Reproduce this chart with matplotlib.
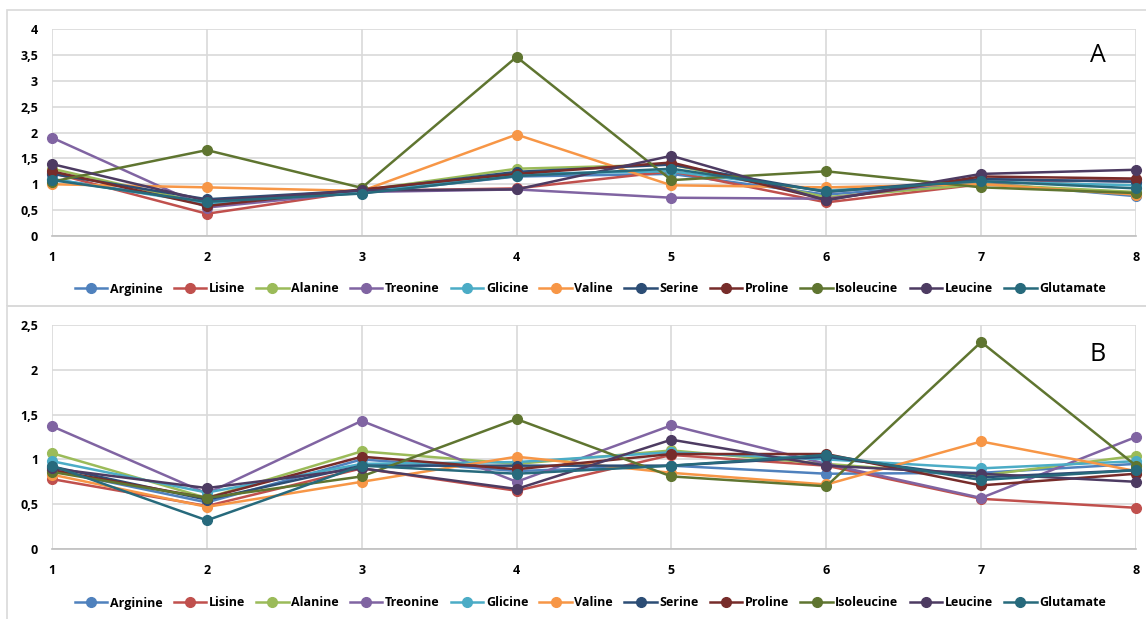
import matplotlib
matplotlib.use('Agg')
from matplotlib import pyplot as plt
from matplotlib.ticker import FuncFormatter, MultipleLocator
from matplotlib.patches import Rectangle

plt.rcParams['font.family'] = ['Open Sans', 'DejaVu Sans']

days = [1, 2, 3, 4, 5, 6, 7, 8]
names = ['Arginine', 'Lisine', 'Alanine', 'Treonine', 'Glicine', 'Valine',
         'Serine', 'Proline', 'Isoleucine', 'Leucine', 'Glutamate']
colors = ['#4F81BD', '#C0504D', '#9BBB59', '#8064A2', '#4BACC6', '#F79646',
          '#2C4D75', '#772C2A', '#5F7530', '#4D3B62', '#276A7C']

# panel A
arginine_a = [1.10, 0.65, 0.83, 1.15, 1.20, 0.80, 1.03, 0.77]
lisine_a = [1.22, 0.43, 0.87, 0.92, 1.25, 0.65, 1.00, 1.10]
alanine_a = [1.30, 0.62, 0.88, 1.30, 1.38, 0.75, 1.00, 0.85]
treonine_a = [1.90, 0.55, 0.85, 0.90, 0.74, 0.72, 1.10, 1.05]
glicine_a = [1.10, 0.63, 0.85, 1.20, 1.25, 0.88, 1.05, 0.98]
valine_a = [1.00, 0.94, 0.87, 1.96, 0.98, 0.94, 1.00, 0.80]
serine_a = [1.20, 0.71, 0.88, 1.24, 1.38, 0.85, 1.10, 1.05]
proline_a = [1.25, 0.58, 0.90, 1.20, 1.42, 0.70, 1.15, 1.11]
isoleucine_a = [1.05, 1.66, 0.93, 3.46, 1.08, 1.25, 0.94, 0.83]
leucine_a = [1.39, 0.68, 0.88, 0.90, 1.55, 0.69, 1.20, 1.28]
glutamate_a = [1.08, 0.66, 0.82, 1.16, 1.30, 0.86, 1.06, 0.92]

# panel B
arginine_b = [0.88, 0.52, 1.00, 0.87, 0.93, 0.84, 0.85, 0.95]
lisine_b = [0.78, 0.48, 0.90, 0.65, 1.05, 0.93, 0.56, 0.46]
alanine_b = [1.07, 0.57, 1.09, 0.95, 1.10, 0.95, 0.82, 1.04]
treonine_b = [1.37, 0.62, 1.43, 0.75, 1.38, 0.95, 0.57, 1.25]
glicine_b = [0.98, 0.63, 0.95, 0.97, 1.08, 1.00, 0.90, 0.98]
valine_b = [0.83, 0.47, 0.75, 1.03, 0.85, 0.72, 1.20, 0.87]
serine_b = [0.92, 0.55, 0.93, 0.93, 0.93, 1.03, 0.80, 0.88]
proline_b = [0.88, 0.57, 1.03, 0.89, 1.06, 1.06, 0.71, 0.84]
isoleucine_b = [0.86, 0.57, 0.81, 1.45, 0.81, 0.70, 2.31, 0.93]
leucine_b = [0.90, 0.68, 0.90, 0.67, 1.22, 0.93, 0.84, 0.75]
glutamate_b = [0.93, 0.32, 0.93, 0.84, 0.93, 1.05, 0.77, 0.88]

series_a = [arginine_a, lisine_a, alanine_a, treonine_a, glicine_a, valine_a,
            serine_a, proline_a, isoleucine_a, leucine_a, glutamate_a]
series_b = [arginine_b, lisine_b, alanine_b, treonine_b, glicine_b, valine_b,
            serine_b, proline_b, isoleucine_b, leucine_b, glutamate_b]


def comma(v, pos):
    s = '{:g}'.format(v)
    return s.replace('.', ',')


def draw_panel(ax, series, ymax, letter, legend_y):
    for vals, name, c in zip(series, names, colors):
        ax.plot(days, vals, color=c, lw=1.8, marker='o', ms=7,
                label=name, clip_on=False, zorder=3)
    ax.set_xlim(1, 8)
    ax.set_ylim(0, ymax)
    ax.yaxis.set_major_locator(MultipleLocator(0.5))
    ax.yaxis.set_major_formatter(FuncFormatter(comma))
    ax.set_xticks(days)
    ax.grid(True, color='#D9D9D9', lw=1.2)
    ax.set_axisbelow(True)
    for s in ['top', 'right', 'left']:
        ax.spines[s].set_visible(False)
    ax.spines['bottom'].set_color('#BFBFBF')
    ax.spines['bottom'].set_linewidth(1.2)
    ax.tick_params(length=0, labelsize=9)
    ax.tick_params(axis='x', pad=11)
    ax.tick_params(axis='y', pad=10)
    for lab in ax.get_xticklabels() + ax.get_yticklabels():
        lab.set_fontweight('bold')
    ax.text(0.965, 0.87, letter, transform=ax.transAxes, fontsize=18,
            ha='center', va='center')
    fig.legend(handles=ax.get_lines(), loc='center',
               bbox_to_anchor=(0.515, legend_y), ncol=11, frameon=False,
               handlelength=2.6, columnspacing=0.9, handletextpad=0.2,
               prop={'size': 9, 'weight': 'bold'}, numpoints=1)


fig = plt.figure(figsize=(11.46, 6.19), dpi=100)

# panel borders
fig.patches.append(Rectangle((7 / 1146, 1 - 306 / 619), 1.1, 296 / 619,
                             transform=fig.transFigure, fill=False,
                             edgecolor='#D9D9D9', lw=1.2))
fig.patches.append(Rectangle((7 / 1146, -0.1), 1.1, 0.1 + 1 - 306 / 619,
                             transform=fig.transFigure, fill=False,
                             edgecolor='#D9D9D9', lw=1.2))

ax_a = fig.add_axes([52 / 1146, 1 - 236 / 619, (1136 - 52) / 1146, 207 / 619])
ax_b = fig.add_axes([52 / 1146, 1 - 549 / 619, (1136 - 52) / 1146, 224 / 619])

draw_panel(ax_a, series_a, 4, 'A', 1 - 289 / 619)
draw_panel(ax_b, series_b, 2.5, 'B', 1 - 603 / 619)

fig.savefig('out.png', dpi=100)
